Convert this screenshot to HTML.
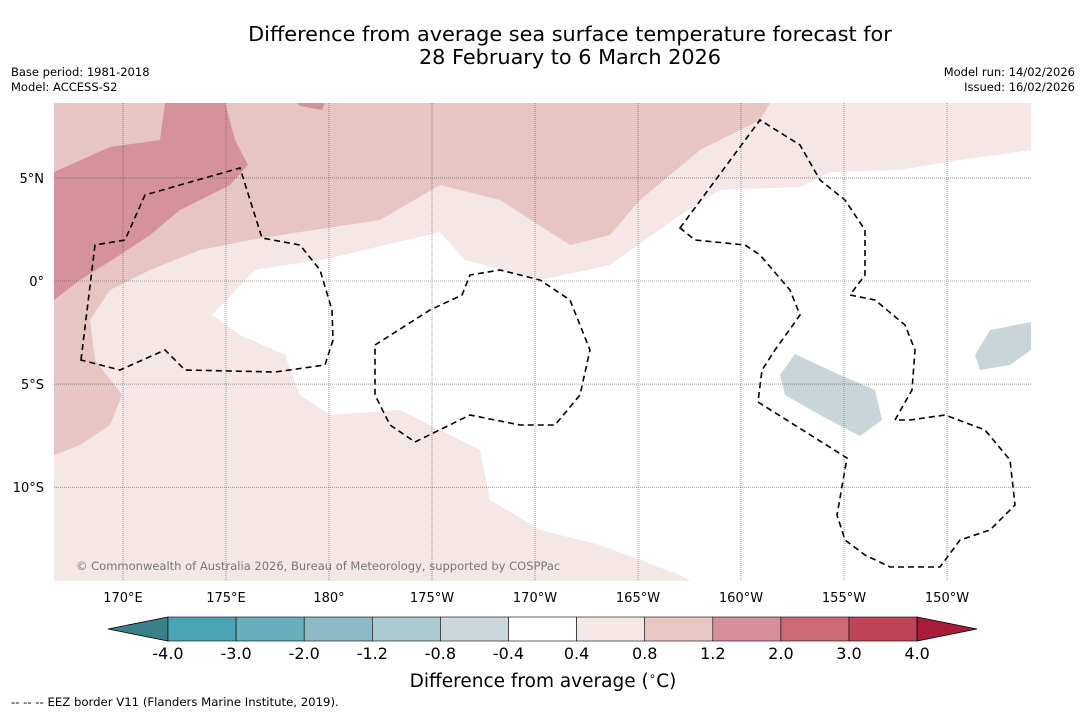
<!DOCTYPE html>
<html><head><meta charset="utf-8"><style>
body{margin:0;background:#fff;width:1085px;height:713px;overflow:hidden;font-family:"DejaVu Sans",sans-serif;}
</style></head><body>
<svg width="1085" height="713" xmlns="http://www.w3.org/2000/svg" font-family="DejaVu Sans, sans-serif">
<text x="570" y="41" text-anchor="middle" font-size="20.8">Difference from average sea surface temperature forecast for</text>
<text x="570" y="64" text-anchor="middle" font-size="20.8">28 February to 6 March 2026</text>
<text x="11" y="76" font-size="11.5">Base period: 1981-2018</text>
<text x="11" y="91" font-size="11.5">Model: ACCESS-S2</text>
<text x="1075" y="76" font-size="11.5" text-anchor="end">Model run: 14/02/2026</text>
<text x="1075" y="91" font-size="11.5" text-anchor="end">Issued: 16/02/2026</text>
<defs><clipPath id="mc"><rect x="54" y="103" width="977" height="478"/></clipPath></defs>
<g clip-path="url(#mc)">
<rect x="54" y="103" width="977" height="478" fill="#f4e7e6"/>
<path fill="#fff" d="M212,315 L255,270 L330,258 L440,232 L465,260 L540,280 L610,265 L680,215 L720,190 L800,187 L830,172 L900,170 L960,160 L1031,150 L1031,581 L690,581 L680,575 L600,545 L540,530 L490,500 L480,450 L440,430 L400,410 L330,415 L300,395 L285,355 L240,335 Z"/>
<path fill="#e6c5c2" d="M54,103 L770,103 L760,120 L700,150 L640,200 L610,235 L570,245 L500,200 L440,185 L380,220 L300,232 L250,240 L200,250 L150,270 L110,290 L90,320 L95,360 L122,395 L110,425 L80,445 L54,455 Z"/>
<path fill="#d5929a" d="M54,172 L110,147 L160,140 L165,103 L225,103 L235,140 L248,165 L230,185 L180,210 L150,235 L120,255 L80,280 L54,300 Z"/>
<path fill="#d5929a" d="M297,103 L325,103 L322,110 L300,106Z"/>
<path fill="#c8d6da" d="M780,375 L795,354 L840,375 L875,390 L882,420 L860,436 L820,415 L785,395 Z"/>
<path fill="#c8d6da" d="M975,355 L990,330 L1031,322 L1031,350 L1010,365 L980,370 Z"/>
<g stroke="#000" stroke-width="1.6" stroke-dasharray="6,4" fill="none">
<path d="M81,360 L95,245 L125,240 L145,195 L180,185 L240,168 L262,238 L300,245 L320,270 L332,310 L333,340 L325,365 L275,372 L185,370 L165,350 L120,370 Z"/>
<path d="M375,345 L430,310 L462,295 L470,275 L500,270 L540,280 L570,300 L590,350 L580,395 L555,425 L520,425 L470,415 L415,442 L390,425 L375,395 Z"/>
<path d="M680,228 L760,120 L800,145 L820,180 L845,200 L865,230 L865,275 L850,295 L875,300 L905,325 L915,350 L912,390 L895,420 L910,420 L945,415 L985,430 L1010,460 L1015,505 L990,530 L960,540 L940,567 L890,567 L865,555 L845,540 L837,515 L847,458 L758,402 L762,370 L775,350 L800,315 L790,290 L760,255 L745,245 L695,240 Z"/>
</g>
<g id="grid" stroke="#555" stroke-width="0.6" stroke-dasharray="1,1"></g>
<text x="76" y="570" font-size="11.5" fill="#777">© Commonwealth of Australia 2026, Bureau of Meteorology, supported by COSPPac</text>
</g>
<g id="axes"></g>
<g id="cbar"></g>
<text x="543" y="687" text-anchor="middle" font-size="18.5">Difference from average (<tspan font-size="12" dy="-7">∘</tspan><tspan dy="7">C)</tspan></text>
<text x="11" y="706" font-size="11.7">--  --  -- EEZ border V11 (Flanders Marine Institute, 2019).</text>
</svg>
<script>
const lonLabels=["170°E","175°E","180°","175°W","170°W","165°W","160°W","155°W","150°W"];
const lonValues=[170,175,180,185,190,195,200,205,210];
const latLabels=["5°N","0°","5°S","10°S"];
const latValues=[5,0,-5,-10];
const cbTicks=["-4.0","-3.0","-2.0","-1.2","-0.8","-0.4","0.4","0.8","1.2","2.0","3.0","4.0"];
const cbColors=["#4aa3b4","#68adbb","#8bbac5","#aacacf","#cad8dc","#ffffff","#f4e7e6","#e8c7c3","#d68f98","#cb6a74","#bf4556"];
const NS="http://www.w3.org/2000/svg";
const px=l=>123+(l-170)*20.6, py=l=>281-l*20.62;
const grid=document.getElementById('grid'),axes=document.getElementById('axes');
function mk(t,a,p){const e=document.createElementNS(NS,t);for(const k in a)e.setAttribute(k,a[k]);p.appendChild(e);return e;}
lonValues.forEach((v,i)=>{const x=px(v);
 const l=mk('line',{x1:x,x2:x,y1:103,y2:581},grid);
 
 
 const t=mk('text',{x:x,y:602,'text-anchor':'middle','font-size':13},axes);t.textContent=lonLabels[i];
 
 });
latValues.forEach((v,i)=>{const y=py(v);
 const l=mk('line',{x1:54,x2:1031,y1:y,y2:y},grid);
 
 
 const t=mk('text',{x:44,y:y+5,'text-anchor':'end','font-size':13},axes);t.textContent=latLabels[i];
 
 });
const cb=document.getElementById('cbar');const x0=168,w=68.1,y0=617,h=24;
const lt=mk('path',{d:`M108,629 L${x0},${y0} L${x0},${y0+h} Z`,fill:'#3b7f88',stroke:'#000','stroke-width':0.8},cb);


cbColors.forEach((c,i)=>{const r=mk('rect',{x:x0+i*w,y:y0,width:w,height:h,fill:c,stroke:'#000','stroke-width':0.6},cb);
 
 });
const xe=x0+cbColors.length*w;
const rt=mk('path',{d:`M${xe},${y0} L977,629 L${xe},${y0+h} Z`,fill:'#a81c3a',stroke:'#000','stroke-width':0.8},cb);


cbTicks.forEach((s,i)=>{const t=mk('text',{x:x0+i*w,y:659,'text-anchor':'middle','font-size':16},cb);t.textContent=s;
 
 });
</script>
</body></html>
